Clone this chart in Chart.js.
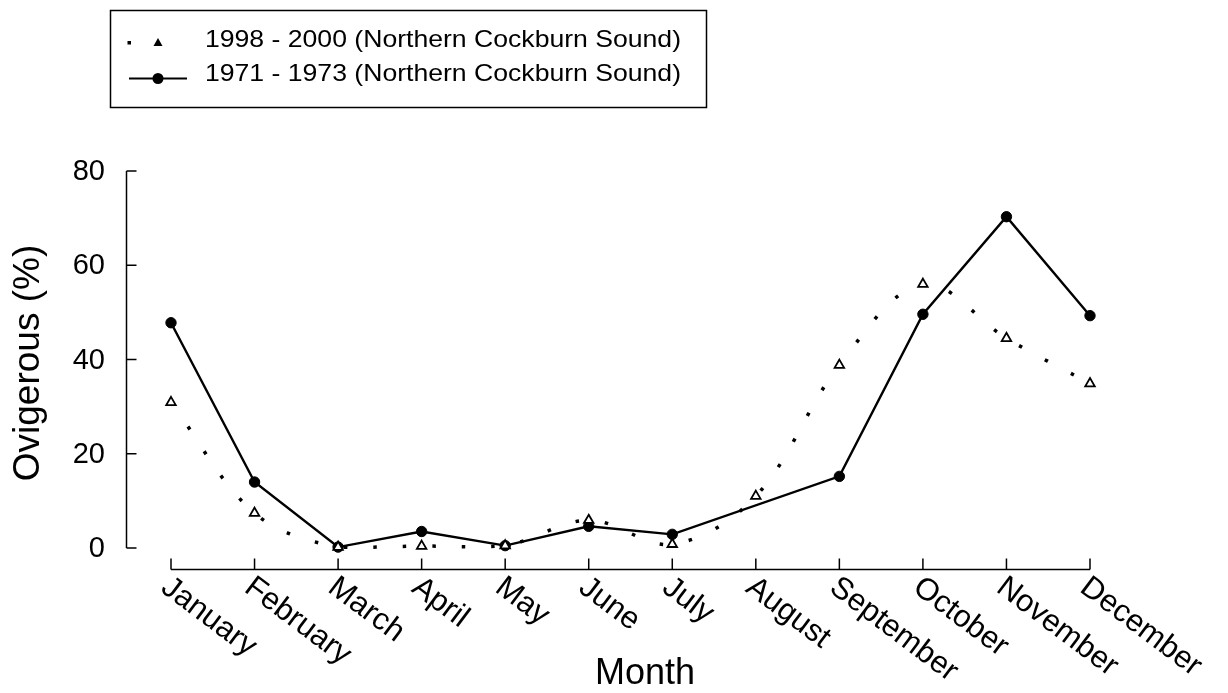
<!DOCTYPE html>
<html>
<head>
<meta charset="utf-8">
<script src="https://cdn.jsdelivr.net/npm/chart.js@4.4.0/dist/chart.umd.min.js"></script>
<style>
  html, body { margin: 0; padding: 0; background: #fff; }
</style>
</head>
<body>
<canvas id="chart" width="1228" height="693"></canvas>
<script>
const months = ["January", "February", "March", "April", "May", "June", "July",
  "August", "September", "October", "November", "December"];
const yTicks = [0, 20, 40, 60, 80];

// % ovigerous
const recent = [30.9, 7.4, 0.2, 0.4, 0.5, 5.9, 0.8, 11.0, 38.8, 56.0, 44.5, 34.9];
const historic = [47.8, 14.0, 0.2, 3.5, 0.5, 4.6, 2.9, null, 15.2, 49.6, 70.3, 49.3];

const recentLabel = "1998 - 2000 (Northern Cockburn Sound)";
const historicLabel = "1971 - 1973 (Northern Cockburn Sound)";
const xTitle = "Month";
const yTitle = "Ovigerous (%)";

const FONT = "'Liberation Sans', Arial, sans-serif";

// axes, tick labels, titles and legend drawn old-plot style
const paperPlugin = {
  id: "paper",
  afterDraw(chart) {
    const ctx = chart.ctx;
    const xs = chart.scales.x;
    const ys = chart.scales.y;
    const area = chart.chartArea;
    ctx.save();
    ctx.strokeStyle = "#000";
    ctx.fillStyle = "#000";
    ctx.lineWidth = 1.5;

    // y axis, ticks pointing inward
    const axX = area.left - 44.5;
    ctx.beginPath();
    ctx.moveTo(axX, ys.getPixelForValue(80));
    ctx.lineTo(axX, ys.getPixelForValue(0));
    yTicks.forEach(function (v) {
      const py = ys.getPixelForValue(v);
      ctx.moveTo(axX, py);
      ctx.lineTo(axX + 10, py);
    });
    ctx.stroke();

    ctx.font = "29px " + FONT;
    ctx.textAlign = "right";
    ctx.textBaseline = "middle";
    yTicks.forEach(function (v) {
      ctx.fillText(String(v), 105, ys.getPixelForValue(v) + 1);
    });

    // x axis, offset below the plot
    const axY = area.bottom + 21.5;
    ctx.beginPath();
    ctx.moveTo(xs.getPixelForValue(0), axY);
    ctx.lineTo(xs.getPixelForValue(months.length - 1), axY);
    months.forEach(function (m, i) {
      const px = xs.getPixelForValue(i);
      ctx.moveTo(px, axY);
      ctx.lineTo(px, axY - 11);
    });
    ctx.stroke();

    ctx.font = "31px " + FONT;
    ctx.textAlign = "left";
    ctx.textBaseline = "top";
    months.forEach(function (m, i) {
      ctx.save();
      ctx.translate(xs.getPixelForValue(i) + 3, axY + 2);
      ctx.rotate(37 * Math.PI / 180);
      ctx.fillText(m, 0, 0);
      ctx.restore();
    });

    // titles
    ctx.font = "36px " + FONT;
    ctx.textAlign = "center";
    ctx.textBaseline = "alphabetic";
    ctx.fillText(xTitle, 645, 684);

    ctx.save();
    ctx.translate(29, 363);
    ctx.rotate(-Math.PI / 2);
    ctx.font = "37px " + FONT;
    ctx.textBaseline = "middle";
    ctx.fillText(yTitle, 0, 0);
    ctx.restore();

    // legend box
    ctx.lineWidth = 1.5;
    ctx.strokeRect(110.5, 10.5, 596, 97);

    // row 1: dot + triangle
    ctx.fillRect(127.5, 41, 3.5, 3.5);
    ctx.beginPath();
    ctx.moveTo(158, 38);
    ctx.lineTo(162.5, 46);
    ctx.lineTo(153.5, 46);
    ctx.closePath();
    ctx.fill();

    // row 2: line + filled circle
    ctx.lineWidth = 2.2;
    ctx.beginPath();
    ctx.moveTo(129, 78.5);
    ctx.lineTo(187, 78.5);
    ctx.stroke();
    ctx.beginPath();
    ctx.arc(158, 78.5, 5.5, 0, Math.PI * 2);
    ctx.fill();

    ctx.font = "24px " + FONT;
    ctx.textAlign = "left";
    ctx.textBaseline = "middle";
    [[recentLabel, 40], [historicLabel, 74]].forEach(function (row) {
      const w = ctx.measureText(row[0]).width;
      ctx.save();
      ctx.translate(205, row[1]);
      ctx.scale(476 / w, 1);
      ctx.fillText(row[0], 0, 0);
      ctx.restore();
    });

    ctx.restore();
  }
};

new Chart(document.getElementById("chart"), {
  type: "line",
  data: {
    labels: months,
    datasets: [
      {
        label: recentLabel,
        data: recent,
        order: 0,
        borderColor: "#000",
        borderWidth: 3.5,
        borderDash: [3.5, 26],
        borderCapStyle: "butt",
        tension: 0.35,
        pointStyle: "triangle",
        pointRadius: 5.5,
        pointBorderWidth: 1.8,
        pointBackgroundColor: "#fff",
        pointBorderColor: "#000",
        clip: false,
      },
      {
        label: historicLabel,
        data: historic,
        order: 1,
        spanGaps: true,
        borderColor: "#000",
        borderWidth: 2.4,
        tension: 0,
        pointStyle: "circle",
        pointRadius: 5.2,
        pointBorderWidth: 1,
        pointBackgroundColor: "#000",
        pointBorderColor: "#000",
        clip: false,
      },
    ],
  },
  options: {
    responsive: false,
    animation: false,
    layout: { padding: { left: 171, right: 138, top: 171, bottom: 145 } },
    plugins: { legend: { display: false }, tooltip: { enabled: false } },
    scales: {
      x: { type: "category", offset: false, display: false },
      y: { min: 0, max: 80, display: false },
    },
  },
  plugins: [paperPlugin],
});
</script>
</body>
</html>
